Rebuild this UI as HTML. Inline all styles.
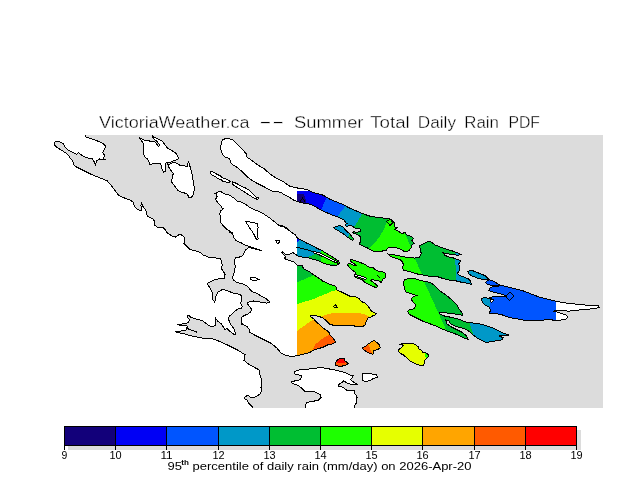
<!DOCTYPE html><html><head><meta charset="utf-8"><title>VictoriaWeather.ca -- Summer Total Daily Rain PDF</title>
<style>html,body{margin:0;padding:0;background:#fff;width:640px;height:480px;overflow:hidden}svg{display:block;will-change:transform}.t{font-family:"Liberation Sans",sans-serif;font-weight:normal;stroke:#fff;stroke-width:0.35px}.l{font-family:"Liberation Sans",sans-serif;font-weight:normal}</style></head><body>
<svg width="640" height="480" viewBox="0 0 640 480">
<defs>
<clipPath id="dom"><rect x="297" y="150" width="259" height="218.5"/></clipPath>
<clipPath id="c_i3"><polygon points="222.2,140.2 225.3,138.6 229.2,138.6 233.1,140.2 236.2,143.3 240.2,147.2 244.0,151.0 246.4,154.2 247.2,157.3 251.9,160.5 258.1,165.2 264.4,169.0 270.6,174.5 276.9,178.4 283.1,181.6 290.0,186.3 295.6,187.7 301.2,188.6 306.9,189.6 310.6,191.4 316.2,193.3 321.9,194.7 325.6,196.6 329.4,199.0 335.0,201.3 339.7,203.2 344.4,205.0 348.1,207.4 353.0,209.5 362.1,213.5 371.2,216.6 379.4,217.6 387.5,218.6 391.6,219.4 394.4,223.1 394.8,226.9 397.2,227.8 394.8,229.2 398.1,231.1 401.9,233.4 405.6,232.5 406.1,234.8 409.4,235.8 412.6,237.2 413.6,238.6 411.7,240.0 413.1,241.9 414.5,243.3 412.2,244.7 411.2,247.5 409.4,250.3 407.5,251.2 403.8,251.2 401.9,249.8 399.0,248.4 394.4,247.5 388.8,247.5 386.9,248.9 385.9,250.8 379.4,251.2 373.8,251.2 370.3,249.6 367.2,247.8 364.0,246.6 360.9,245.0 359.4,243.9 360.2,242.0 360.9,240.0 360.5,236.9 359.4,235.7 356.2,234.1 353.9,233.4 352.7,232.6 353.9,231.8 356.2,232.2 359.8,231.8 360.5,230.6 360.2,229.0 357.8,228.7 354.7,227.9 353.1,226.7 351.6,225.9 349.2,225.5 347.7,226.3 345.7,226.0 345.3,224.4 347.3,223.4 346.2,223.1 343.8,220.0 340.6,218.4 337.5,216.9 332.5,215.3 326.2,212.4 319.0,209.0 314.4,206.0 308.8,204.0 299.4,202.3 293.8,200.2 289.4,197.4 286.0,195.6 283.1,194.0 281.6,192.5 276.9,191.7 273.8,191.7 270.6,190.2 264.4,187.0 256.6,183.1 250.3,179.2 245.6,175.3 240.9,170.6 236.2,166.7 232.3,164.4 230.8,162.8 230.0,159.7 228.4,158.1 225.3,157.3 223.0,155.0 221.4,151.9 220.6,147.2 221.4,142.5" fill="none" stroke="none" /><polygon points="333.6,227.5 336.0,226.7 339.5,225.5 340.6,226.0 343.0,226.7 344.0,228.0 345.0,229.5 347.7,232.2 350.0,234.0 352.0,236.9 353.9,239.2 352.7,240.4 351.2,239.6 348.4,237.7 346.5,236.5 343.8,234.1 340.6,232.2 337.5,230.2 334.4,228.7" fill="none" stroke="none" /></clipPath>
<clipPath id="c_l2"><polygon points="215.0,193.5 216.5,193.0 218.0,192.5 218.2,191.5 220.0,191.2 220.8,191.5 221.5,192.2 223.0,192.8 225.0,194.0 227.0,194.5 229.0,195.0 230.5,195.5 232.0,197.0 234.0,198.2 235.5,199.5 237.0,201.0 239.0,201.2 241.0,201.8 245.6,204.5 250.3,207.7 255.0,210.0 261.2,212.3 266.0,215.5 270.6,218.6 275.3,222.5 279.2,225.6 281.6,226.4 286.2,227.2 287.8,229.5 291.0,232.0 295.6,235.0 297.0,237.7 300.0,239.7 303.4,241.3 306.6,243.0 309.9,244.6 313.1,246.2 316.4,247.9 319.6,249.5 322.9,251.1 326.1,253.1 329.4,255.2 332.7,257.2 335.9,259.2 338.7,260.9 339.6,263.3 337.5,264.9 334.3,265.7 331.0,265.3 327.8,264.5 324.5,263.7 321.3,262.1 318.8,260.9 315.6,260.0 311.5,258.8 307.4,257.6 303.4,257.2 300.0,256.8 297.0,255.4 293.8,253.1 293.1,251.9 291.9,253.1 288.8,254.4 286.2,255.0 282.5,251.9 281.9,252.5 283.8,255.0 285.6,256.9 284.4,258.1 286.2,259.4 290.0,260.6 293.8,261.9 295.6,263.8 297.0,264.9 298.2,265.2 302.1,265.6 303.0,267.5 304.5,269.5 309.2,271.5 312.4,273.9 316.4,276.6 321.1,279.8 322.7,281.4 326.6,282.6 329.8,284.5 334.6,285.7 336.1,287.3 336.9,290.1 340.9,291.7 344.8,293.6 349.4,296.0 355.6,296.7 358.8,298.3 361.1,301.4 365.0,303.0 368.1,306.1 369.7,308.4 371.2,310.8 375.2,313.1 376.2,313.8 375.9,314.7 374.4,315.5 373.8,315.0 371.2,316.9 368.1,317.5 366.2,321.2 365.0,325.0 362.5,326.9 358.8,326.9 352.5,325.6 347.5,325.0 340.0,325.0 335.0,325.6 330.0,324.4 327.5,321.9 325.0,319.4 321.9,317.5 316.2,315.6 310.6,315.6 310.6,316.9 313.8,318.8 316.2,321.9 320.0,325.0 323.1,328.1 326.9,330.6 328.8,331.9 330.0,335.0 333.1,338.1 335.6,341.9 332.5,343.8 327.5,345.0 322.5,347.5 317.5,348.8 312.5,350.6 310.0,352.5 305.0,353.8 300.0,355.0 297.5,355.6 292.0,356.6 286.3,355.6 280.7,352.8 277.0,348.1 271.3,343.4 263.8,339.7 254.4,335.0 249.7,332.2 249.7,329.4 246.9,326.6 242.2,323.8 241.9,324.3 241.2,320.7 241.2,317.8 244.1,315.6 247.7,314.1 250.7,311.9 251.4,309.0 249.2,306.1 247.0,303.2 249.2,301.7 253.6,301.0 258.0,301.7 262.3,302.4 266.7,303.2 269.6,302.4 268.9,301.0 265.3,298.1 260.9,295.9 256.5,293.2 252.1,291.5 249.9,289.3 247.7,286.4 243.4,284.2 237.5,282.7 233.9,280.5 232.4,277.6 233.1,275.4 234.6,271.0 235.3,266.7 234.6,261.6 235.3,258.0 239.0,257.2 242.6,255.7 245.6,249.8 248.8,247.5 262.0,250.6 249.5,246.7 245.6,245.2 241.0,242.8 236.2,240.5 233.9,238.1 233.1,235.0 232.3,232.7 230.8,231.9 228.4,230.3 225.3,228.0 223.0,225.6 220.6,222.5 220.6,217.8 219.8,213.9 220.6,210.8 222.5,209.5 223.2,208.5 222.0,208.0 221.5,206.5 219.5,204.5 218.0,203.0 216.5,201.0 215.2,199.2 216.5,198.0 217.2,196.5 216.2,196.0 216.5,194.2" fill="none" stroke="none" /></clipPath>
<clipPath id="c_i6"><polygon points="388.4,254.0 396.9,255.3 406.2,257.2 414.7,258.1 419.4,257.2 421.2,253.4 420.3,248.8 419.4,246.0 423.1,244.0 428.8,241.2 431.6,242.2 435.3,245.0 440.0,246.9 445.6,248.8 451.2,250.6 456.9,252.5 460.6,254.4 457.8,255.3 451.2,254.4 445.6,253.4 442.8,252.5 444.7,255.3 449.4,257.2 454.0,258.1 458.8,260.0 460.6,261.0 458.8,263.8 459.7,267.5 458.8,272.2 456.9,273.1 458.8,275.0 463.4,276.9 468.1,278.8 470.0,280.6 471.9,284.4 468.1,283.4 462.5,282.5 458.8,281.6 455.0,280.6 451.2,280.6 443.8,278.8 438.1,276.9 432.5,276.9 427.8,276.0 423.1,275.0 417.5,274.0 411.9,272.2 408.1,271.2 403.4,270.3 402.5,267.5 403.4,264.7 402.5,261.9 400.6,260.0 395.0,258.1 390.3,256.2" fill="none" stroke="none" /></clipPath>
<clipPath id="c_i7"><polygon points="404.4,279.7 410.0,278.4 415.6,278.8 420.3,280.6 426.0,281.6 430.6,282.5 435.3,286.2 440.0,291.0 445.6,294.7 451.2,299.4 456.9,305.0 459.0,308.8 461.9,312.5 462.8,315.3 458.1,314.4 450.6,313.4 443.1,312.5 439.4,312.5 440.3,314.4 445.0,316.2 450.6,317.2 458.1,319.0 465.6,321.9 471.2,322.8 478.8,323.8 486.2,325.6 493.8,328.4 501.2,332.2 508.8,335.0 504.0,335.0 499.4,336.0 503.1,337.8 502.2,339.7 497.5,340.6 491.9,341.6 486.2,342.5 482.5,340.6 476.9,337.8 473.1,335.0 470.3,332.2 467.5,330.3 463.8,328.4 456.2,326.6 450.6,323.8 448.8,321.0 445.9,320.0 446.9,323.8 450.6,326.6 456.2,329.4 461.9,332.2 465.6,335.0 467.5,337.8 468.4,339.7 463.8,337.8 458.1,335.0 450.6,332.2 443.1,329.4 437.5,326.6 430.0,323.8 422.5,321.0 415.0,317.2 409.4,314.4 407.5,311.6 409.4,309.7 414.0,308.8 416.0,305.0 413.1,302.2 411.2,299.4 413.1,296.6 416.9,295.6 411.2,293.8 405.6,291.9 404.4,288.0 403.4,283.4" fill="none" stroke="none" /></clipPath>
<clipPath id="c_i8"><polygon points="467.5,271.2 472.5,270.6 478.8,273.1 485.0,275.6 488.8,279.4 486.2,280.0 482.5,279.4 477.5,278.1 472.5,276.2 469.4,274.4" fill="none" stroke="none" /></clipPath>
<clipPath id="c_i9"><polygon points="489.4,288.1 492.5,286.9 497.5,286.2 502.5,285.6 507.5,286.9 512.5,288.1 517.5,289.4 522.5,290.6 530.3,293.6 539.7,297.2 549.0,299.5 556.0,301.4 565.5,303.0 577.2,304.2 588.9,305.4 598.3,305.4 599.4,307.7 591.2,308.9 579.5,310.0 567.8,311.2 560.8,310.0 556.0,310.0 553.8,311.2 558.4,312.4 565.5,314.7 567.8,317.0 565.5,319.4 556.0,320.6 549.0,319.4 539.7,320.6 530.3,320.6 522.5,320.0 517.5,318.8 512.5,318.1 507.5,316.9 502.5,315.0 497.5,313.8 492.5,313.8 489.4,313.1 490.6,310.0 489.4,308.1 488.8,306.5 487.5,306.2 485.0,305.0 482.5,302.5 481.9,300.6 481.9,298.8 483.8,297.5 486.2,297.5 488.8,298.8 490.0,297.5 492.5,296.9 497.5,296.9 503.1,296.9 505.0,295.6 502.5,294.4 497.5,293.1 492.5,291.9 488.8,290.6" fill="none" stroke="none" /><polygon points="485.6,282.5 488.8,279.6 493.8,281.2 497.5,283.6 501.2,285.4 496.2,285.6 491.2,285.4 487.5,284.4" fill="none" stroke="none" /></clipPath>
<clipPath id="c_i12"><polygon points="350.2,259.3 352.5,259.7 355.6,260.9 358.8,262.0 361.9,263.2 365.0,264.4 367.3,266.3 369.7,267.1 372.8,267.5 374.4,269.1 376.7,270.6 379.0,271.4 382.2,271.4 384.5,272.6 386.1,274.1 385.3,275.3 385.3,276.9 384.9,278.4 383.8,278.4 382.2,280.0 381.8,282.0 380.6,282.0 378.3,280.8 376.7,280.0 374.4,280.0 372.0,279.6 370.5,280.4 372.8,282.0 374.4,283.1 375.9,284.3 377.5,285.9 377.1,287.0 374.4,287.0 372.0,285.9 369.7,284.7 367.3,283.5 365.0,282.3 363.4,281.2 361.9,280.0 360.3,279.2 358.0,278.4 355.6,277.7 354.5,275.7 354.8,274.5 355.6,273.8 355.2,272.2 354.0,271.4 351.7,269.5 349.4,267.5 347.4,264.8 347.8,264.0 350.2,263.6 352.9,264.8 354.8,265.9 356.8,265.9 356.0,264.8 353.7,263.6 351.7,262.4 350.5,260.9" fill="none" stroke="none" /></clipPath>
<clipPath id="c_iy"><polygon points="400.2,344.4 402.5,343.2 404.5,343.6 407.2,343.2 411.9,343.2 415.8,344.8 418.1,346.7 418.9,349.1 421.2,350.2 422.8,352.2 425.9,353.0 429.0,354.9 428.3,356.5 426.7,358.4 424.8,360.0 424.4,362.3 423.6,365.1 422.0,365.9 419.7,365.1 416.6,364.3 413.4,362.7 410.3,361.2 408.0,359.2 405.6,356.9 403.3,354.9 400.2,353.4 398.6,351.8 399.0,349.5 401.7,347.5 403.7,345.5 402.1,344.8" fill="none" stroke="none" /></clipPath>
<clipPath id="c_io"><polygon points="362.5,347.8 366.3,346.0 368.2,344.0 373.8,340.3 376.6,342.2 379.4,345.0 380.4,347.8 377.6,349.7 373.8,350.6 372.9,354.4 370.0,353.5 366.3,351.6 363.5,349.7" fill="none" stroke="none" /></clipPath>
<clipPath id="c_ir"><polygon points="335.6,363.1 337.0,360.3 338.4,359.4 340.3,358.4 342.2,358.9 344.0,358.4 345.0,360.8 346.9,362.2 348.3,364.0 345.9,365.0 343.1,365.5 341.2,366.9 339.4,366.9 337.5,365.9 335.6,365.0" fill="none" stroke="none" /></clipPath>
</defs>
<g shape-rendering="crispEdges" stroke-width="1" stroke-linejoin="miter">
<rect x="0" y="0" width="640" height="480" fill="#fff"/>
<rect x="40" y="135" width="563" height="273" fill="#dcdcdc"/>
<polygon points="85.3,120.0 85.3,135.5 86.0,137.0 93.0,139.4 99.4,141.7 104.8,144.8 105.6,147.2 104.0,150.3 102.5,152.7 104.4,155.0 104.0,157.3 103.3,159.0 105.6,159.7 102.5,159.7 99.4,159.0 97.0,160.5 96.2,162.8 95.5,164.4 94.7,162.8 93.0,159.7 91.5,158.0 88.4,158.0 85.3,157.3 81.4,155.0 78.3,152.7 76.7,154.2 73.6,152.7 67.3,149.5 65.0,147.2 63.4,144.0 60.3,142.2 56.4,141.2 54.8,142.2 54.0,144.0 55.6,146.4 60.3,149.5 65.8,153.0 69.0,155.8 69.7,158.0 71.2,159.0 72.8,161.2 73.6,164.4 76.0,166.7 82.2,169.8 91.5,174.5 99.4,177.7 107.2,180.8 111.9,186.2 116.6,192.5 119.0,195.6 124.4,198.0 130.6,200.3 133.1,202.0 133.9,205.2 136.2,208.3 137.8,209.8 141.2,210.6 141.0,205.2 141.7,202.0 142.5,206.0 144.8,209.0 146.4,211.4 147.2,216.0 150.3,217.7 153.4,219.2 155.0,222.3 154.2,224.7 157.3,227.0 162.0,227.0 164.4,228.6 167.5,233.3 171.4,235.6 175.3,237.2 180.0,234.0 183.9,236.4 184.7,241.1 183.9,243.4 186.2,245.8 190.2,249.7 197.2,251.2 201.0,252.8 203.4,255.2 209.7,257.5 219.8,258.3 221.5,260.8 222.2,265.2 221.5,268.9 223.6,271.8 225.1,274.7 224.4,278.4 218.4,278.8 214.5,279.8 208.3,283.0 207.5,283.8 209.8,287.7 212.2,292.3 213.0,296.2 212.2,298.6 214.5,301.7 215.3,300.0 216.0,296.2 217.7,292.3 220.0,290.8 222.9,289.3 227.3,290.8 233.1,293.0 239.7,294.4 241.9,296.6 241.9,301.0 240.4,303.2 241.9,305.5 242.1,306.7 241.7,308.8 238.3,308.8 235.8,310.4 233.8,312.5 231.7,314.6 229.6,315.4 228.3,318.3 228.8,320.0 230.0,323.3 231.7,325.8 233.8,328.3 234.6,330.8 235.4,333.3 235.0,335.0 233.3,333.8 230.8,332.0 229.2,330.8 227.5,328.8 224.6,329.2 222.5,325.8 220.8,323.3 218.3,321.7 215.6,318.3 215.4,317.5 215.3,322.5 216.0,324.8 213.8,326.0 209.8,326.0 206.7,324.0 202.0,320.5 198.9,319.8 193.4,318.2 191.0,317.4 189.5,315.9 188.0,315.5 187.2,317.0 188.8,318.6 189.5,319.8 188.8,321.7 187.2,322.9 184.8,323.3 182.5,323.7 181.0,324.5 177.4,324.0 179.4,325.2 186.4,325.2 187.2,326.4 186.8,328.8 185.6,330.7 181.0,331.0 175.9,331.0 175.5,331.5 177.0,332.3 184.0,333.8 189.5,335.4 199.7,337.7 206.0,338.5 210.6,338.1 215.3,339.7 220.0,341.6 228.1,345.3 237.5,350.0 245.0,354.7 244.0,360.3 246.9,363.1 253.4,366.9 259.0,369.7 260.0,375.3 261.9,380.0 261.0,387.5 262.0,390.4 260.0,394.1 255.3,397.0 250.6,397.9 247.8,395.0 245.0,397.0 244.0,398.8 246.9,399.7 248.8,403.5 252.5,407.2 253.0,420.0 20.0,420.0 20.0,120.0" fill="#fff" stroke="none" />
<polygon points="215.0,193.5 216.5,193.0 218.0,192.5 218.2,191.5 220.0,191.2 220.8,191.5 221.5,192.2 223.0,192.8 225.0,194.0 227.0,194.5 229.0,195.0 230.5,195.5 232.0,197.0 234.0,198.2 235.5,199.5 237.0,201.0 239.0,201.2 241.0,201.8 245.6,204.5 250.3,207.7 255.0,210.0 261.2,212.3 266.0,215.5 270.6,218.6 275.3,222.5 279.2,225.6 281.6,226.4 286.2,227.2 287.8,229.5 291.0,232.0 295.6,235.0 297.0,237.7 300.0,239.7 303.4,241.3 306.6,243.0 309.9,244.6 313.1,246.2 316.4,247.9 319.6,249.5 322.9,251.1 326.1,253.1 329.4,255.2 332.7,257.2 335.9,259.2 338.7,260.9 339.6,263.3 337.5,264.9 334.3,265.7 331.0,265.3 327.8,264.5 324.5,263.7 321.3,262.1 318.8,260.9 315.6,260.0 311.5,258.8 307.4,257.6 303.4,257.2 300.0,256.8 297.0,255.4 293.8,253.1 293.1,251.9 291.9,253.1 288.8,254.4 286.2,255.0 282.5,251.9 281.9,252.5 283.8,255.0 285.6,256.9 284.4,258.1 286.2,259.4 290.0,260.6 293.8,261.9 295.6,263.8 297.0,264.9 298.2,265.2 302.1,265.6 303.0,267.5 304.5,269.5 309.2,271.5 312.4,273.9 316.4,276.6 321.1,279.8 322.7,281.4 326.6,282.6 329.8,284.5 334.6,285.7 336.1,287.3 336.9,290.1 340.9,291.7 344.8,293.6 349.4,296.0 355.6,296.7 358.8,298.3 361.1,301.4 365.0,303.0 368.1,306.1 369.7,308.4 371.2,310.8 375.2,313.1 376.2,313.8 375.9,314.7 374.4,315.5 373.8,315.0 371.2,316.9 368.1,317.5 366.2,321.2 365.0,325.0 362.5,326.9 358.8,326.9 352.5,325.6 347.5,325.0 340.0,325.0 335.0,325.6 330.0,324.4 327.5,321.9 325.0,319.4 321.9,317.5 316.2,315.6 310.6,315.6 310.6,316.9 313.8,318.8 316.2,321.9 320.0,325.0 323.1,328.1 326.9,330.6 328.8,331.9 330.0,335.0 333.1,338.1 335.6,341.9 332.5,343.8 327.5,345.0 322.5,347.5 317.5,348.8 312.5,350.6 310.0,352.5 305.0,353.8 300.0,355.0 297.5,355.6 292.0,356.6 286.3,355.6 280.7,352.8 277.0,348.1 271.3,343.4 263.8,339.7 254.4,335.0 249.7,332.2 249.7,329.4 246.9,326.6 242.2,323.8 241.9,324.3 241.2,320.7 241.2,317.8 244.1,315.6 247.7,314.1 250.7,311.9 251.4,309.0 249.2,306.1 247.0,303.2 249.2,301.7 253.6,301.0 258.0,301.7 262.3,302.4 266.7,303.2 269.6,302.4 268.9,301.0 265.3,298.1 260.9,295.9 256.5,293.2 252.1,291.5 249.9,289.3 247.7,286.4 243.4,284.2 237.5,282.7 233.9,280.5 232.4,277.6 233.1,275.4 234.6,271.0 235.3,266.7 234.6,261.6 235.3,258.0 239.0,257.2 242.6,255.7 245.6,249.8 248.8,247.5 262.0,250.6 249.5,246.7 245.6,245.2 241.0,242.8 236.2,240.5 233.9,238.1 233.1,235.0 232.3,232.7 230.8,231.9 228.4,230.3 225.3,228.0 223.0,225.6 220.6,222.5 220.6,217.8 219.8,213.9 220.6,210.8 222.5,209.5 223.2,208.5 222.0,208.0 221.5,206.5 219.5,204.5 218.0,203.0 216.5,201.0 215.2,199.2 216.5,198.0 217.2,196.5 216.2,196.0 216.5,194.2" fill="#fff" stroke="none" />
<polygon points="139.4,137.8 144.8,140.2 149.5,141.0 153.4,141.0 155.0,141.7 156.6,144.0 158.1,146.4 159.7,145.6 158.9,144.0 157.3,141.7 154.2,139.4 151.9,135.5 153.4,137.0 157.3,138.6 162.0,141.0 164.4,144.0 167.5,148.0 171.4,150.3 175.3,152.7 177.7,155.8 178.4,158.9 176.9,159.7 173.8,160.5 169.8,162.8 168.3,162.0 166.0,162.8 165.2,166.0 166.0,170.6 163.6,172.2 162.0,169.0 161.2,166.0 160.5,163.6 158.1,163.6 155.0,163.6 149.5,164.4 148.8,161.2 147.2,158.9 144.8,156.6 143.3,153.4 143.3,149.5 144.0,145.6 143.3,143.3 141.7,141.0 139.4,138.6" fill="#fff" stroke="none" />
<polygon points="167.5,163.6 169.0,164.4 172.2,162.8 175.3,162.8 176.9,163.6 180.0,165.2 184.7,166.0 187.0,166.7 187.8,163.6 188.6,162.0 189.4,163.6 190.2,167.5 191.7,172.2 192.5,176.9 193.3,181.6 194.0,186.2 194.0,191.0 193.3,194.8 192.5,196.4 190.2,198.0 188.6,197.2 187.8,194.8 186.2,193.3 181.6,192.5 177.7,190.2 176.0,187.8 173.8,184.7 171.4,181.6 172.2,178.4 172.2,175.3 173.8,173.8 172.2,172.2 169.8,169.0 168.3,166.0" fill="#fff" stroke="none" />
<polygon points="222.2,140.2 225.3,138.6 229.2,138.6 233.1,140.2 236.2,143.3 240.2,147.2 244.0,151.0 246.4,154.2 247.2,157.3 251.9,160.5 258.1,165.2 264.4,169.0 270.6,174.5 276.9,178.4 283.1,181.6 290.0,186.3 295.6,187.7 301.2,188.6 306.9,189.6 310.6,191.4 316.2,193.3 321.9,194.7 325.6,196.6 329.4,199.0 335.0,201.3 339.7,203.2 344.4,205.0 348.1,207.4 353.0,209.5 362.1,213.5 371.2,216.6 379.4,217.6 387.5,218.6 391.6,219.4 394.4,223.1 394.8,226.9 397.2,227.8 394.8,229.2 398.1,231.1 401.9,233.4 405.6,232.5 406.1,234.8 409.4,235.8 412.6,237.2 413.6,238.6 411.7,240.0 413.1,241.9 414.5,243.3 412.2,244.7 411.2,247.5 409.4,250.3 407.5,251.2 403.8,251.2 401.9,249.8 399.0,248.4 394.4,247.5 388.8,247.5 386.9,248.9 385.9,250.8 379.4,251.2 373.8,251.2 370.3,249.6 367.2,247.8 364.0,246.6 360.9,245.0 359.4,243.9 360.2,242.0 360.9,240.0 360.5,236.9 359.4,235.7 356.2,234.1 353.9,233.4 352.7,232.6 353.9,231.8 356.2,232.2 359.8,231.8 360.5,230.6 360.2,229.0 357.8,228.7 354.7,227.9 353.1,226.7 351.6,225.9 349.2,225.5 347.7,226.3 345.7,226.0 345.3,224.4 347.3,223.4 346.2,223.1 343.8,220.0 340.6,218.4 337.5,216.9 332.5,215.3 326.2,212.4 319.0,209.0 314.4,206.0 308.8,204.0 299.4,202.3 293.8,200.2 289.4,197.4 286.0,195.6 283.1,194.0 281.6,192.5 276.9,191.7 273.8,191.7 270.6,190.2 264.4,187.0 256.6,183.1 250.3,179.2 245.6,175.3 240.9,170.6 236.2,166.7 232.3,164.4 230.8,162.8 230.0,159.7 228.4,158.1 225.3,157.3 223.0,155.0 221.4,151.9 220.6,147.2 221.4,142.5" fill="#fff" stroke="none" />
<polygon points="210.2,171.1 211.6,171.1 216.2,173.9 220.9,176.2 222.3,177.7 225.2,178.6 228.4,180.0 230.3,181.9 227.5,182.3 222.8,181.4 221.4,180.0 219.0,179.1 215.3,176.7 211.6,174.8 210.2,173.0" fill="#fff" stroke="none" />
<polygon points="232.2,181.9 234.0,182.3 237.8,184.2 242.5,186.6 246.2,188.4 250.0,190.8 252.8,193.6 255.6,196.9 258.4,197.3 258.9,198.8 257.0,199.2 254.7,198.3 252.8,197.3 249.0,195.0 246.2,193.1 242.5,190.8 238.8,188.4 235.9,186.6 233.1,184.7" fill="#fff" stroke="none" />
<polygon points="333.6,227.5 336.0,226.7 339.5,225.5 340.6,226.0 343.0,226.7 344.0,228.0 345.0,229.5 347.7,232.2 350.0,234.0 352.0,236.9 353.9,239.2 352.7,240.4 351.2,239.6 348.4,237.7 346.5,236.5 343.8,234.1 340.6,232.2 337.5,230.2 334.4,228.7" fill="#fff" stroke="none" />
<polygon points="388.4,254.0 396.9,255.3 406.2,257.2 414.7,258.1 419.4,257.2 421.2,253.4 420.3,248.8 419.4,246.0 423.1,244.0 428.8,241.2 431.6,242.2 435.3,245.0 440.0,246.9 445.6,248.8 451.2,250.6 456.9,252.5 460.6,254.4 457.8,255.3 451.2,254.4 445.6,253.4 442.8,252.5 444.7,255.3 449.4,257.2 454.0,258.1 458.8,260.0 460.6,261.0 458.8,263.8 459.7,267.5 458.8,272.2 456.9,273.1 458.8,275.0 463.4,276.9 468.1,278.8 470.0,280.6 471.9,284.4 468.1,283.4 462.5,282.5 458.8,281.6 455.0,280.6 451.2,280.6 443.8,278.8 438.1,276.9 432.5,276.9 427.8,276.0 423.1,275.0 417.5,274.0 411.9,272.2 408.1,271.2 403.4,270.3 402.5,267.5 403.4,264.7 402.5,261.9 400.6,260.0 395.0,258.1 390.3,256.2" fill="#fff" stroke="none" />
<polygon points="404.4,279.7 410.0,278.4 415.6,278.8 420.3,280.6 426.0,281.6 430.6,282.5 435.3,286.2 440.0,291.0 445.6,294.7 451.2,299.4 456.9,305.0 459.0,308.8 461.9,312.5 462.8,315.3 458.1,314.4 450.6,313.4 443.1,312.5 439.4,312.5 440.3,314.4 445.0,316.2 450.6,317.2 458.1,319.0 465.6,321.9 471.2,322.8 478.8,323.8 486.2,325.6 493.8,328.4 501.2,332.2 508.8,335.0 504.0,335.0 499.4,336.0 503.1,337.8 502.2,339.7 497.5,340.6 491.9,341.6 486.2,342.5 482.5,340.6 476.9,337.8 473.1,335.0 470.3,332.2 467.5,330.3 463.8,328.4 456.2,326.6 450.6,323.8 448.8,321.0 445.9,320.0 446.9,323.8 450.6,326.6 456.2,329.4 461.9,332.2 465.6,335.0 467.5,337.8 468.4,339.7 463.8,337.8 458.1,335.0 450.6,332.2 443.1,329.4 437.5,326.6 430.0,323.8 422.5,321.0 415.0,317.2 409.4,314.4 407.5,311.6 409.4,309.7 414.0,308.8 416.0,305.0 413.1,302.2 411.2,299.4 413.1,296.6 416.9,295.6 411.2,293.8 405.6,291.9 404.4,288.0 403.4,283.4" fill="#fff" stroke="none" />
<polygon points="467.5,271.2 472.5,270.6 478.8,273.1 485.0,275.6 488.8,279.4 486.2,280.0 482.5,279.4 477.5,278.1 472.5,276.2 469.4,274.4" fill="#fff" stroke="none" />
<polygon points="489.4,288.1 492.5,286.9 497.5,286.2 502.5,285.6 507.5,286.9 512.5,288.1 517.5,289.4 522.5,290.6 530.3,293.6 539.7,297.2 549.0,299.5 556.0,301.4 565.5,303.0 577.2,304.2 588.9,305.4 598.3,305.4 599.4,307.7 591.2,308.9 579.5,310.0 567.8,311.2 560.8,310.0 556.0,310.0 553.8,311.2 558.4,312.4 565.5,314.7 567.8,317.0 565.5,319.4 556.0,320.6 549.0,319.4 539.7,320.6 530.3,320.6 522.5,320.0 517.5,318.8 512.5,318.1 507.5,316.9 502.5,315.0 497.5,313.8 492.5,313.8 489.4,313.1 490.6,310.0 489.4,308.1 488.8,306.5 487.5,306.2 485.0,305.0 482.5,302.5 481.9,300.6 481.9,298.8 483.8,297.5 486.2,297.5 488.8,298.8 490.0,297.5 492.5,296.9 497.5,296.9 503.1,296.9 505.0,295.6 502.5,294.4 497.5,293.1 492.5,291.9 488.8,290.6" fill="#fff" stroke="none" />
<polygon points="485.6,282.5 488.8,279.6 493.8,281.2 497.5,283.6 501.2,285.4 496.2,285.6 491.2,285.4 487.5,284.4" fill="#fff" stroke="none" />
<polygon points="350.2,259.3 352.5,259.7 355.6,260.9 358.8,262.0 361.9,263.2 365.0,264.4 367.3,266.3 369.7,267.1 372.8,267.5 374.4,269.1 376.7,270.6 379.0,271.4 382.2,271.4 384.5,272.6 386.1,274.1 385.3,275.3 385.3,276.9 384.9,278.4 383.8,278.4 382.2,280.0 381.8,282.0 380.6,282.0 378.3,280.8 376.7,280.0 374.4,280.0 372.0,279.6 370.5,280.4 372.8,282.0 374.4,283.1 375.9,284.3 377.5,285.9 377.1,287.0 374.4,287.0 372.0,285.9 369.7,284.7 367.3,283.5 365.0,282.3 363.4,281.2 361.9,280.0 360.3,279.2 358.0,278.4 355.6,277.7 354.5,275.7 354.8,274.5 355.6,273.8 355.2,272.2 354.0,271.4 351.7,269.5 349.4,267.5 347.4,264.8 347.8,264.0 350.2,263.6 352.9,264.8 354.8,265.9 356.8,265.9 356.0,264.8 353.7,263.6 351.7,262.4 350.5,260.9" fill="#fff" stroke="none" />
<polygon points="400.2,344.4 402.5,343.2 404.5,343.6 407.2,343.2 411.9,343.2 415.8,344.8 418.1,346.7 418.9,349.1 421.2,350.2 422.8,352.2 425.9,353.0 429.0,354.9 428.3,356.5 426.7,358.4 424.8,360.0 424.4,362.3 423.6,365.1 422.0,365.9 419.7,365.1 416.6,364.3 413.4,362.7 410.3,361.2 408.0,359.2 405.6,356.9 403.3,354.9 400.2,353.4 398.6,351.8 399.0,349.5 401.7,347.5 403.7,345.5 402.1,344.8" fill="#fff" stroke="none" />
<polygon points="362.5,347.8 366.3,346.0 368.2,344.0 373.8,340.3 376.6,342.2 379.4,345.0 380.4,347.8 377.6,349.7 373.8,350.6 372.9,354.4 370.0,353.5 366.3,351.6 363.5,349.7" fill="#fff" stroke="none" />
<polygon points="335.6,363.1 337.0,360.3 338.4,359.4 340.3,358.4 342.2,358.9 344.0,358.4 345.0,360.8 346.9,362.2 348.3,364.0 345.9,365.0 343.1,365.5 341.2,366.9 339.4,366.9 337.5,365.9 335.6,365.0" fill="#fff" stroke="none" />
<polygon points="305.3,409.0 306.2,403.2 308.0,402.2 318.4,400.3 321.2,397.5 320.3,394.7 314.7,391.9 309.0,391.0 304.4,391.0 301.6,388.2 297.8,385.3 292.2,383.4 291.2,381.6 296.9,380.6 300.6,379.7 301.6,376.0 298.8,375.0 295.0,374.0 294.0,372.2 296.9,370.3 304.4,369.4 314.7,368.5 320.3,367.5 326.9,368.5 336.3,370.3 343.8,372.2 350.3,375.0 353.2,375.0 352.2,377.8 350.3,379.7 354.1,382.5 357.0,384.4 352.2,384.4 347.5,383.4 343.8,380.6 342.0,382.5 339.0,384.4 338.2,386.3 342.9,387.2 346.6,390.0 351.3,390.0 355.0,391.0 354.1,392.8 356.0,394.7 357.0,397.5 356.0,400.3 357.0,402.2 355.0,405.0 354.0,409.0" fill="#fff" stroke="none" />
<polygon points="362.5,373.2 368.2,373.2 376.6,375.0 377.6,377.0 372.9,378.8 370.0,380.6 365.4,381.6 362.5,380.6 362.5,377.0" fill="#fff" stroke="none" />
<g clip-path="url(#dom)">
<g clip-path="url(#c_i3)">
<polygon points="290.0,150.0 600.0,150.0 600.0,370.0 290.0,370.0" fill="#0000f5" stroke="none" />
<polygon points="297.0,194.0 304.0,194.2 307.0,204.5 297.0,204.5" fill="#12007a" stroke="none" />
<polygon points="297.0,185.0 308.5,185.0 308.5,190.9 297.0,190.9" fill="#ffffff" stroke="none" />
<polygon points="331.6,185.0 430.0,185.0 430.0,260.0 300.3,260.0" fill="#0055ff" stroke="none" />
<polygon points="361.7,185.0 430.0,185.0 430.0,260.0 303.7,260.0" fill="#0098c8" stroke="none" />
<polygon points="380.8,185.0 430.0,185.0 430.0,260.0 342.6,245.0 333.0,260.0" fill="#00be32" stroke="none" />
<polygon points="392.0,185.0 430.0,185.0 430.0,260.0 363.8,260.0 370.0,247.0 373.8,243.8 379.4,237.2 384.0,228.8 387.8,219.4 389.0,215.0" fill="#1eff00" stroke="none" />
<polygon points="403.5,228.0 430.0,228.0 430.0,260.0 412.5,260.0 411.2,247.5 404.7,233.0" fill="#00be32" stroke="none" />
</g>
<g clip-path="url(#c_l2)">
<polygon points="290.0,150.0 600.0,150.0 600.0,370.0 290.0,370.0" fill="#1eff00" stroke="none" />
<polygon points="297.0,230.0 340.0,230.0 320.5,252.0 307.4,257.2 297.0,261.3" fill="#0098c8" stroke="none" />
<polygon points="297.0,235.0 304.0,235.0 297.0,243.0" fill="#0000f5" stroke="none" />
<polygon points="297.0,261.3 320.5,252.0 320.5,263.5 297.0,263.5" fill="#00be32" stroke="none" />
<polygon points="297.0,264.3 335.0,264.3 335.0,266.5 313.4,275.5 297.0,282.2" fill="#00be32" stroke="none" />
<polygon points="297.0,304.0 305.0,301.6 313.8,298.9 323.0,295.0 332.5,291.0 340.0,289.5 380.0,285.0 380.0,370.0 297.0,370.0" fill="#e6ff00" stroke="none" />
<polygon points="297.0,331.0 311.8,320.4 316.0,318.3 322.5,316.2 328.8,313.8 337.5,312.5 350.0,312.5 360.0,313.1 366.2,315.0 372.0,318.0 380.0,318.0 380.0,370.0 297.0,370.0" fill="#ffa500" stroke="none" />
<polygon points="312.0,352.0 313.4,348.5 315.4,344.5 319.7,340.6 323.7,337.8 328.4,335.0 334.0,331.3 340.0,330.0 340.0,370.0 300.0,370.0" fill="#ff5a00" stroke="none" />
</g>
<g clip-path="url(#c_i6)">
<polygon points="290.0,150.0 600.0,150.0 600.0,370.0 290.0,370.0" fill="#1eff00" stroke="none" />
<polygon points="404.6,235.0 480.0,235.0 480.0,290.0 428.8,290.0" fill="#00be32" stroke="none" />
<polygon points="454.0,240.0 480.0,240.0 480.0,290.0 457.0,290.0" fill="#0098c8" stroke="none" />
</g>
<g clip-path="url(#c_i7)">
<polygon points="290.0,150.0 600.0,150.0 600.0,370.0 290.0,370.0" fill="#1eff00" stroke="none" />
<polygon points="421.2,275.0 520.0,275.0 520.0,350.0 455.2,350.0" fill="#00be32" stroke="none" />
<polygon points="451.9,272.8 520.0,272.8 520.0,350.0 478.8,350.0" fill="#0098c8" stroke="none" />
</g>
<g clip-path="url(#c_i8)">
<polygon points="290.0,150.0 600.0,150.0 600.0,370.0 290.0,370.0" fill="#0098c8" stroke="none" />
</g>
<g clip-path="url(#c_i9)">
<polygon points="290.0,150.0 600.0,150.0 600.0,370.0 290.0,370.0" fill="#0055ff" stroke="none" />
<polygon points="470.0,296.0 490.0,296.0 490.0,308.0 470.0,308.0" fill="#0098c8" stroke="none" />
<polygon points="556.0,280.0 610.0,280.0 610.0,330.0 556.0,330.0" fill="#ffffff" stroke="none" />
</g>
<g clip-path="url(#c_i12)">
<polygon points="290.0,150.0 600.0,150.0 600.0,370.0 290.0,370.0" fill="#1eff00" stroke="none" />
</g>
<g clip-path="url(#c_iy)">
<polygon points="290.0,150.0 600.0,150.0 600.0,370.0 290.0,370.0" fill="#e6ff00" stroke="none" />
<polygon points="424.3,350.0 440.0,350.0 440.0,362.0 426.3,362.0" fill="#1eff00" stroke="none" />
</g>
<g clip-path="url(#c_io)">
<polygon points="290.0,150.0 600.0,150.0 600.0,370.0 290.0,370.0" fill="#ffa500" stroke="none" />
<polygon points="350.0,340.0 366.5,340.0 373.0,356.0 350.0,356.0" fill="#ff5a00" stroke="none" />
</g>
<g clip-path="url(#c_ir)">
<polygon points="290.0,150.0 600.0,150.0 600.0,370.0 290.0,370.0" fill="#ff5a00" stroke="none" />
<polygon points="337.3,357.0 344.8,357.0 344.6,362.6 337.5,362.6" fill="#ff0000" stroke="none" />
</g>
</g>
<polygon points="354.8,274.4 359.5,275.6 363.5,276.9 366.5,278.2 365.5,279.4 362.0,278.4 358.5,277.3 355.0,276.0" fill="#fff" stroke="none" />
<polygon points="490.6,298.6 494.0,300.2 491.2,303.0" fill="#fff" stroke="none" />
<polygon points="313.0,251.2 320.0,253.0 326.0,256.0 332.0,259.0 338.0,262.2 337.2,263.2 331.0,260.4 325.0,257.6 319.0,254.8 313.0,252.6" fill="#fff" stroke="none" />
<polygon points="85.3,120.0 85.3,135.5 86.0,137.0 93.0,139.4 99.4,141.7 104.8,144.8 105.6,147.2 104.0,150.3 102.5,152.7 104.4,155.0 104.0,157.3 103.3,159.0 105.6,159.7 102.5,159.7 99.4,159.0 97.0,160.5 96.2,162.8 95.5,164.4 94.7,162.8 93.0,159.7 91.5,158.0 88.4,158.0 85.3,157.3 81.4,155.0 78.3,152.7 76.7,154.2 73.6,152.7 67.3,149.5 65.0,147.2 63.4,144.0 60.3,142.2 56.4,141.2 54.8,142.2 54.0,144.0 55.6,146.4 60.3,149.5 65.8,153.0 69.0,155.8 69.7,158.0 71.2,159.0 72.8,161.2 73.6,164.4 76.0,166.7 82.2,169.8 91.5,174.5 99.4,177.7 107.2,180.8 111.9,186.2 116.6,192.5 119.0,195.6 124.4,198.0 130.6,200.3 133.1,202.0 133.9,205.2 136.2,208.3 137.8,209.8 141.2,210.6 141.0,205.2 141.7,202.0 142.5,206.0 144.8,209.0 146.4,211.4 147.2,216.0 150.3,217.7 153.4,219.2 155.0,222.3 154.2,224.7 157.3,227.0 162.0,227.0 164.4,228.6 167.5,233.3 171.4,235.6 175.3,237.2 180.0,234.0 183.9,236.4 184.7,241.1 183.9,243.4 186.2,245.8 190.2,249.7 197.2,251.2 201.0,252.8 203.4,255.2 209.7,257.5 219.8,258.3 221.5,260.8 222.2,265.2 221.5,268.9 223.6,271.8 225.1,274.7 224.4,278.4 218.4,278.8 214.5,279.8 208.3,283.0 207.5,283.8 209.8,287.7 212.2,292.3 213.0,296.2 212.2,298.6 214.5,301.7 215.3,300.0 216.0,296.2 217.7,292.3 220.0,290.8 222.9,289.3 227.3,290.8 233.1,293.0 239.7,294.4 241.9,296.6 241.9,301.0 240.4,303.2 241.9,305.5 242.1,306.7 241.7,308.8 238.3,308.8 235.8,310.4 233.8,312.5 231.7,314.6 229.6,315.4 228.3,318.3 228.8,320.0 230.0,323.3 231.7,325.8 233.8,328.3 234.6,330.8 235.4,333.3 235.0,335.0 233.3,333.8 230.8,332.0 229.2,330.8 227.5,328.8 224.6,329.2 222.5,325.8 220.8,323.3 218.3,321.7 215.6,318.3 215.4,317.5 215.3,322.5 216.0,324.8 213.8,326.0 209.8,326.0 206.7,324.0 202.0,320.5 198.9,319.8 193.4,318.2 191.0,317.4 189.5,315.9 188.0,315.5 187.2,317.0 188.8,318.6 189.5,319.8 188.8,321.7 187.2,322.9 184.8,323.3 182.5,323.7 181.0,324.5 177.4,324.0 179.4,325.2 186.4,325.2 187.2,326.4 186.8,328.8 185.6,330.7 181.0,331.0 175.9,331.0 175.5,331.5 177.0,332.3 184.0,333.8 189.5,335.4 199.7,337.7 206.0,338.5 210.6,338.1 215.3,339.7 220.0,341.6 228.1,345.3 237.5,350.0 245.0,354.7 244.0,360.3 246.9,363.1 253.4,366.9 259.0,369.7 260.0,375.3 261.9,380.0 261.0,387.5 262.0,390.4 260.0,394.1 255.3,397.0 250.6,397.9 247.8,395.0 245.0,397.0 244.0,398.8 246.9,399.7 248.8,403.5 252.5,407.2 253.0,420.0 20.0,420.0 20.0,120.0" fill="none" stroke="#000" />
<polygon points="215.0,193.5 216.5,193.0 218.0,192.5 218.2,191.5 220.0,191.2 220.8,191.5 221.5,192.2 223.0,192.8 225.0,194.0 227.0,194.5 229.0,195.0 230.5,195.5 232.0,197.0 234.0,198.2 235.5,199.5 237.0,201.0 239.0,201.2 241.0,201.8 245.6,204.5 250.3,207.7 255.0,210.0 261.2,212.3 266.0,215.5 270.6,218.6 275.3,222.5 279.2,225.6 281.6,226.4 286.2,227.2 287.8,229.5 291.0,232.0 295.6,235.0 297.0,237.7 300.0,239.7 303.4,241.3 306.6,243.0 309.9,244.6 313.1,246.2 316.4,247.9 319.6,249.5 322.9,251.1 326.1,253.1 329.4,255.2 332.7,257.2 335.9,259.2 338.7,260.9 339.6,263.3 337.5,264.9 334.3,265.7 331.0,265.3 327.8,264.5 324.5,263.7 321.3,262.1 318.8,260.9 315.6,260.0 311.5,258.8 307.4,257.6 303.4,257.2 300.0,256.8 297.0,255.4 293.8,253.1 293.1,251.9 291.9,253.1 288.8,254.4 286.2,255.0 282.5,251.9 281.9,252.5 283.8,255.0 285.6,256.9 284.4,258.1 286.2,259.4 290.0,260.6 293.8,261.9 295.6,263.8 297.0,264.9 298.2,265.2 302.1,265.6 303.0,267.5 304.5,269.5 309.2,271.5 312.4,273.9 316.4,276.6 321.1,279.8 322.7,281.4 326.6,282.6 329.8,284.5 334.6,285.7 336.1,287.3 336.9,290.1 340.9,291.7 344.8,293.6 349.4,296.0 355.6,296.7 358.8,298.3 361.1,301.4 365.0,303.0 368.1,306.1 369.7,308.4 371.2,310.8 375.2,313.1 376.2,313.8 375.9,314.7 374.4,315.5 373.8,315.0 371.2,316.9 368.1,317.5 366.2,321.2 365.0,325.0 362.5,326.9 358.8,326.9 352.5,325.6 347.5,325.0 340.0,325.0 335.0,325.6 330.0,324.4 327.5,321.9 325.0,319.4 321.9,317.5 316.2,315.6 310.6,315.6 310.6,316.9 313.8,318.8 316.2,321.9 320.0,325.0 323.1,328.1 326.9,330.6 328.8,331.9 330.0,335.0 333.1,338.1 335.6,341.9 332.5,343.8 327.5,345.0 322.5,347.5 317.5,348.8 312.5,350.6 310.0,352.5 305.0,353.8 300.0,355.0 297.5,355.6 292.0,356.6 286.3,355.6 280.7,352.8 277.0,348.1 271.3,343.4 263.8,339.7 254.4,335.0 249.7,332.2 249.7,329.4 246.9,326.6 242.2,323.8 241.9,324.3 241.2,320.7 241.2,317.8 244.1,315.6 247.7,314.1 250.7,311.9 251.4,309.0 249.2,306.1 247.0,303.2 249.2,301.7 253.6,301.0 258.0,301.7 262.3,302.4 266.7,303.2 269.6,302.4 268.9,301.0 265.3,298.1 260.9,295.9 256.5,293.2 252.1,291.5 249.9,289.3 247.7,286.4 243.4,284.2 237.5,282.7 233.9,280.5 232.4,277.6 233.1,275.4 234.6,271.0 235.3,266.7 234.6,261.6 235.3,258.0 239.0,257.2 242.6,255.7 245.6,249.8 248.8,247.5 262.0,250.6 249.5,246.7 245.6,245.2 241.0,242.8 236.2,240.5 233.9,238.1 233.1,235.0 232.3,232.7 230.8,231.9 228.4,230.3 225.3,228.0 223.0,225.6 220.6,222.5 220.6,217.8 219.8,213.9 220.6,210.8 222.5,209.5 223.2,208.5 222.0,208.0 221.5,206.5 219.5,204.5 218.0,203.0 216.5,201.0 215.2,199.2 216.5,198.0 217.2,196.5 216.2,196.0 216.5,194.2" fill="none" stroke="#000" />
<polygon points="139.4,137.8 144.8,140.2 149.5,141.0 153.4,141.0 155.0,141.7 156.6,144.0 158.1,146.4 159.7,145.6 158.9,144.0 157.3,141.7 154.2,139.4 151.9,135.5 153.4,137.0 157.3,138.6 162.0,141.0 164.4,144.0 167.5,148.0 171.4,150.3 175.3,152.7 177.7,155.8 178.4,158.9 176.9,159.7 173.8,160.5 169.8,162.8 168.3,162.0 166.0,162.8 165.2,166.0 166.0,170.6 163.6,172.2 162.0,169.0 161.2,166.0 160.5,163.6 158.1,163.6 155.0,163.6 149.5,164.4 148.8,161.2 147.2,158.9 144.8,156.6 143.3,153.4 143.3,149.5 144.0,145.6 143.3,143.3 141.7,141.0 139.4,138.6" fill="none" stroke="#000" />
<polygon points="167.5,163.6 169.0,164.4 172.2,162.8 175.3,162.8 176.9,163.6 180.0,165.2 184.7,166.0 187.0,166.7 187.8,163.6 188.6,162.0 189.4,163.6 190.2,167.5 191.7,172.2 192.5,176.9 193.3,181.6 194.0,186.2 194.0,191.0 193.3,194.8 192.5,196.4 190.2,198.0 188.6,197.2 187.8,194.8 186.2,193.3 181.6,192.5 177.7,190.2 176.0,187.8 173.8,184.7 171.4,181.6 172.2,178.4 172.2,175.3 173.8,173.8 172.2,172.2 169.8,169.0 168.3,166.0" fill="none" stroke="#000" />
<polygon points="222.2,140.2 225.3,138.6 229.2,138.6 233.1,140.2 236.2,143.3 240.2,147.2 244.0,151.0 246.4,154.2 247.2,157.3 251.9,160.5 258.1,165.2 264.4,169.0 270.6,174.5 276.9,178.4 283.1,181.6 290.0,186.3 295.6,187.7 301.2,188.6 306.9,189.6 310.6,191.4 316.2,193.3 321.9,194.7 325.6,196.6 329.4,199.0 335.0,201.3 339.7,203.2 344.4,205.0 348.1,207.4 353.0,209.5 362.1,213.5 371.2,216.6 379.4,217.6 387.5,218.6 391.6,219.4 394.4,223.1 394.8,226.9 397.2,227.8 394.8,229.2 398.1,231.1 401.9,233.4 405.6,232.5 406.1,234.8 409.4,235.8 412.6,237.2 413.6,238.6 411.7,240.0 413.1,241.9 414.5,243.3 412.2,244.7 411.2,247.5 409.4,250.3 407.5,251.2 403.8,251.2 401.9,249.8 399.0,248.4 394.4,247.5 388.8,247.5 386.9,248.9 385.9,250.8 379.4,251.2 373.8,251.2 370.3,249.6 367.2,247.8 364.0,246.6 360.9,245.0 359.4,243.9 360.2,242.0 360.9,240.0 360.5,236.9 359.4,235.7 356.2,234.1 353.9,233.4 352.7,232.6 353.9,231.8 356.2,232.2 359.8,231.8 360.5,230.6 360.2,229.0 357.8,228.7 354.7,227.9 353.1,226.7 351.6,225.9 349.2,225.5 347.7,226.3 345.7,226.0 345.3,224.4 347.3,223.4 346.2,223.1 343.8,220.0 340.6,218.4 337.5,216.9 332.5,215.3 326.2,212.4 319.0,209.0 314.4,206.0 308.8,204.0 299.4,202.3 293.8,200.2 289.4,197.4 286.0,195.6 283.1,194.0 281.6,192.5 276.9,191.7 273.8,191.7 270.6,190.2 264.4,187.0 256.6,183.1 250.3,179.2 245.6,175.3 240.9,170.6 236.2,166.7 232.3,164.4 230.8,162.8 230.0,159.7 228.4,158.1 225.3,157.3 223.0,155.0 221.4,151.9 220.6,147.2 221.4,142.5" fill="none" stroke="#000" />
<polygon points="210.2,171.1 211.6,171.1 216.2,173.9 220.9,176.2 222.3,177.7 225.2,178.6 228.4,180.0 230.3,181.9 227.5,182.3 222.8,181.4 221.4,180.0 219.0,179.1 215.3,176.7 211.6,174.8 210.2,173.0" fill="none" stroke="#000" />
<polygon points="232.2,181.9 234.0,182.3 237.8,184.2 242.5,186.6 246.2,188.4 250.0,190.8 252.8,193.6 255.6,196.9 258.4,197.3 258.9,198.8 257.0,199.2 254.7,198.3 252.8,197.3 249.0,195.0 246.2,193.1 242.5,190.8 238.8,188.4 235.9,186.6 233.1,184.7" fill="none" stroke="#000" />
<polygon points="333.6,227.5 336.0,226.7 339.5,225.5 340.6,226.0 343.0,226.7 344.0,228.0 345.0,229.5 347.7,232.2 350.0,234.0 352.0,236.9 353.9,239.2 352.7,240.4 351.2,239.6 348.4,237.7 346.5,236.5 343.8,234.1 340.6,232.2 337.5,230.2 334.4,228.7" fill="none" stroke="#000" />
<polygon points="388.4,254.0 396.9,255.3 406.2,257.2 414.7,258.1 419.4,257.2 421.2,253.4 420.3,248.8 419.4,246.0 423.1,244.0 428.8,241.2 431.6,242.2 435.3,245.0 440.0,246.9 445.6,248.8 451.2,250.6 456.9,252.5 460.6,254.4 457.8,255.3 451.2,254.4 445.6,253.4 442.8,252.5 444.7,255.3 449.4,257.2 454.0,258.1 458.8,260.0 460.6,261.0 458.8,263.8 459.7,267.5 458.8,272.2 456.9,273.1 458.8,275.0 463.4,276.9 468.1,278.8 470.0,280.6 471.9,284.4 468.1,283.4 462.5,282.5 458.8,281.6 455.0,280.6 451.2,280.6 443.8,278.8 438.1,276.9 432.5,276.9 427.8,276.0 423.1,275.0 417.5,274.0 411.9,272.2 408.1,271.2 403.4,270.3 402.5,267.5 403.4,264.7 402.5,261.9 400.6,260.0 395.0,258.1 390.3,256.2" fill="none" stroke="#000" />
<polygon points="404.4,279.7 410.0,278.4 415.6,278.8 420.3,280.6 426.0,281.6 430.6,282.5 435.3,286.2 440.0,291.0 445.6,294.7 451.2,299.4 456.9,305.0 459.0,308.8 461.9,312.5 462.8,315.3 458.1,314.4 450.6,313.4 443.1,312.5 439.4,312.5 440.3,314.4 445.0,316.2 450.6,317.2 458.1,319.0 465.6,321.9 471.2,322.8 478.8,323.8 486.2,325.6 493.8,328.4 501.2,332.2 508.8,335.0 504.0,335.0 499.4,336.0 503.1,337.8 502.2,339.7 497.5,340.6 491.9,341.6 486.2,342.5 482.5,340.6 476.9,337.8 473.1,335.0 470.3,332.2 467.5,330.3 463.8,328.4 456.2,326.6 450.6,323.8 448.8,321.0 445.9,320.0 446.9,323.8 450.6,326.6 456.2,329.4 461.9,332.2 465.6,335.0 467.5,337.8 468.4,339.7 463.8,337.8 458.1,335.0 450.6,332.2 443.1,329.4 437.5,326.6 430.0,323.8 422.5,321.0 415.0,317.2 409.4,314.4 407.5,311.6 409.4,309.7 414.0,308.8 416.0,305.0 413.1,302.2 411.2,299.4 413.1,296.6 416.9,295.6 411.2,293.8 405.6,291.9 404.4,288.0 403.4,283.4" fill="none" stroke="#000" />
<polygon points="467.5,271.2 472.5,270.6 478.8,273.1 485.0,275.6 488.8,279.4 486.2,280.0 482.5,279.4 477.5,278.1 472.5,276.2 469.4,274.4" fill="none" stroke="#000" />
<polygon points="489.4,288.1 492.5,286.9 497.5,286.2 502.5,285.6 507.5,286.9 512.5,288.1 517.5,289.4 522.5,290.6 530.3,293.6 539.7,297.2 549.0,299.5 556.0,301.4 565.5,303.0 577.2,304.2 588.9,305.4 598.3,305.4 599.4,307.7 591.2,308.9 579.5,310.0 567.8,311.2 560.8,310.0 556.0,310.0 553.8,311.2 558.4,312.4 565.5,314.7 567.8,317.0 565.5,319.4 556.0,320.6 549.0,319.4 539.7,320.6 530.3,320.6 522.5,320.0 517.5,318.8 512.5,318.1 507.5,316.9 502.5,315.0 497.5,313.8 492.5,313.8 489.4,313.1 490.6,310.0 489.4,308.1 488.8,306.5 487.5,306.2 485.0,305.0 482.5,302.5 481.9,300.6 481.9,298.8 483.8,297.5 486.2,297.5 488.8,298.8 490.0,297.5 492.5,296.9 497.5,296.9 503.1,296.9 505.0,295.6 502.5,294.4 497.5,293.1 492.5,291.9 488.8,290.6" fill="none" stroke="#000" />
<polygon points="485.6,282.5 488.8,279.6 493.8,281.2 497.5,283.6 501.2,285.4 496.2,285.6 491.2,285.4 487.5,284.4" fill="none" stroke="#000" />
<polygon points="350.2,259.3 352.5,259.7 355.6,260.9 358.8,262.0 361.9,263.2 365.0,264.4 367.3,266.3 369.7,267.1 372.8,267.5 374.4,269.1 376.7,270.6 379.0,271.4 382.2,271.4 384.5,272.6 386.1,274.1 385.3,275.3 385.3,276.9 384.9,278.4 383.8,278.4 382.2,280.0 381.8,282.0 380.6,282.0 378.3,280.8 376.7,280.0 374.4,280.0 372.0,279.6 370.5,280.4 372.8,282.0 374.4,283.1 375.9,284.3 377.5,285.9 377.1,287.0 374.4,287.0 372.0,285.9 369.7,284.7 367.3,283.5 365.0,282.3 363.4,281.2 361.9,280.0 360.3,279.2 358.0,278.4 355.6,277.7 354.5,275.7 354.8,274.5 355.6,273.8 355.2,272.2 354.0,271.4 351.7,269.5 349.4,267.5 347.4,264.8 347.8,264.0 350.2,263.6 352.9,264.8 354.8,265.9 356.8,265.9 356.0,264.8 353.7,263.6 351.7,262.4 350.5,260.9" fill="none" stroke="#000" />
<polygon points="400.2,344.4 402.5,343.2 404.5,343.6 407.2,343.2 411.9,343.2 415.8,344.8 418.1,346.7 418.9,349.1 421.2,350.2 422.8,352.2 425.9,353.0 429.0,354.9 428.3,356.5 426.7,358.4 424.8,360.0 424.4,362.3 423.6,365.1 422.0,365.9 419.7,365.1 416.6,364.3 413.4,362.7 410.3,361.2 408.0,359.2 405.6,356.9 403.3,354.9 400.2,353.4 398.6,351.8 399.0,349.5 401.7,347.5 403.7,345.5 402.1,344.8" fill="none" stroke="#000" />
<polygon points="362.5,347.8 366.3,346.0 368.2,344.0 373.8,340.3 376.6,342.2 379.4,345.0 380.4,347.8 377.6,349.7 373.8,350.6 372.9,354.4 370.0,353.5 366.3,351.6 363.5,349.7" fill="none" stroke="#000" />
<polygon points="335.6,363.1 337.0,360.3 338.4,359.4 340.3,358.4 342.2,358.9 344.0,358.4 345.0,360.8 346.9,362.2 348.3,364.0 345.9,365.0 343.1,365.5 341.2,366.9 339.4,366.9 337.5,365.9 335.6,365.0" fill="none" stroke="#000" />
<polygon points="305.3,409.0 306.2,403.2 308.0,402.2 318.4,400.3 321.2,397.5 320.3,394.7 314.7,391.9 309.0,391.0 304.4,391.0 301.6,388.2 297.8,385.3 292.2,383.4 291.2,381.6 296.9,380.6 300.6,379.7 301.6,376.0 298.8,375.0 295.0,374.0 294.0,372.2 296.9,370.3 304.4,369.4 314.7,368.5 320.3,367.5 326.9,368.5 336.3,370.3 343.8,372.2 350.3,375.0 353.2,375.0 352.2,377.8 350.3,379.7 354.1,382.5 357.0,384.4 352.2,384.4 347.5,383.4 343.8,380.6 342.0,382.5 339.0,384.4 338.2,386.3 342.9,387.2 346.6,390.0 351.3,390.0 355.0,391.0 354.1,392.8 356.0,394.7 357.0,397.5 356.0,400.3 357.0,402.2 355.0,405.0 354.0,409.0" fill="none" stroke="#000" />
<polygon points="362.5,373.2 368.2,373.2 376.6,375.0 377.6,377.0 372.9,378.8 370.0,380.6 365.4,381.6 362.5,380.6 362.5,377.0" fill="none" stroke="#000" />
<polygon points="354.8,274.4 359.5,275.6 363.5,276.9 366.5,278.2 365.5,279.4 362.0,278.4 358.5,277.3 355.0,276.0" fill="none" stroke="#000" />
<polygon points="490.6,298.6 494.0,300.2 491.2,303.0" fill="none" stroke="#000" />
<polygon points="313.0,251.2 320.0,253.0 326.0,256.0 332.0,259.0 338.0,262.2 337.2,263.2 331.0,260.4 325.0,257.6 319.0,254.8 313.0,252.6" fill="none" stroke="#000" />
<polyline points="296.5,247.2 302.0,248.5 307.5,249.8 313.0,251.5" fill="none" stroke="#000"/>
<polyline points="245.6,221.0 251.9,222.5 257.3,223.3 258.1,227.2 257.3,231.9 258.1,238.9 256.6,239.7 253.4,233.4 250.3,228.8 247.2,224.0 245.6,221.0" fill="none" stroke="#000"/>
<polyline points="275.6,240.0 280.0,240.2 279.5,242.5 277.5,243.6 276.2,241.5 275.6,240.0" fill="none" stroke="#000"/>
<polyline points="250.0,277.5 254.0,277.0 258.5,279.5 255.0,281.0 251.0,279.5 250.0,277.5" fill="none" stroke="#000"/>
<polyline points="510.0,291.9 513.8,296.2 509.4,300.6 505.6,296.2 510.0,291.9" fill="none" stroke="#000"/>
<polyline points="386.4,221.4 390.4,219.5 393.0,222.7 390.1,225.5 386.4,221.4" fill="none" stroke="#000"/>
<polyline points="376.5,274.8 378.6,276.6 380.3,278.6" fill="none" stroke="#000"/>
<polyline points="362.2,279.2 363.8,280.8" fill="none" stroke="#000"/>
<polyline points="299.8,201.7 302.5,198.2 305.0,201.7" fill="none" stroke="#000"/>
<polyline points="228.5,231.6 231.8,233.4" fill="none" stroke="#000"/>
<polyline points="280.5,225.2 283.0,226.2 286.0,228.4" fill="none" stroke="#000"/>
<polyline points="187.2,328.4 190.0,329.6 194.0,331.0 197.3,332.3" fill="none" stroke="#000"/>
<polyline points="333.5,307.0 335.2,304.5 337.0,307.0 333.5,307.0" fill="none" stroke="#000"/>
<rect x="0" y="0" width="640" height="135" fill="#fff"/>
<rect x="0" y="408" width="640" height="72" fill="#fff"/>
<rect x="603" y="0" width="37" height="480" fill="#fff"/>
<rect x="0" y="0" width="40" height="480" fill="#fff"/>
</g>
<text class="t" x="99.00" y="128.0" font-size="16.8" textLength="150.40" lengthAdjust="spacingAndGlyphs" fill="#000">VictoriaWeather.ca</text>
<text class="t" x="259.00" y="126.8" font-size="16.8" textLength="25.50" lengthAdjust="spacingAndGlyphs" fill="#000">--</text>
<text class="t" x="294.00" y="128.0" font-size="16.8" textLength="69.50" lengthAdjust="spacingAndGlyphs" fill="#000">Summer</text>
<text class="t" x="370.25" y="128.0" font-size="16.8" textLength="39.50" lengthAdjust="spacingAndGlyphs" fill="#000">Total</text>
<text class="t" x="417.75" y="128.0" font-size="16.8" textLength="38.25" lengthAdjust="spacingAndGlyphs" fill="#000">Daily</text>
<text class="t" x="464.30" y="128.0" font-size="16.8" textLength="34.70" lengthAdjust="spacingAndGlyphs" fill="#000">Rain</text>
<text class="t" x="508.40" y="128.0" font-size="16.8" textLength="31.50" lengthAdjust="spacingAndGlyphs" fill="#000">PDF</text>
<g shape-rendering="crispEdges">
<rect x="68" y="430" width="513" height="20" fill="#dcdcdc"/>
<rect x="64" y="426" width="51" height="20" fill="#12007a"/>
<rect x="115" y="426" width="51" height="20" fill="#0000f5"/>
<rect x="166" y="426" width="52" height="20" fill="#0055ff"/>
<rect x="218" y="426" width="51" height="20" fill="#0098c8"/>
<rect x="269" y="426" width="51" height="20" fill="#00be32"/>
<rect x="320" y="426" width="51" height="20" fill="#1eff00"/>
<rect x="371" y="426" width="51" height="20" fill="#e6ff00"/>
<rect x="422" y="426" width="52" height="20" fill="#ffa500"/>
<rect x="474" y="426" width="51" height="20" fill="#ff5a00"/>
<rect x="525" y="426" width="51" height="20" fill="#ff0000"/>
<rect x="64.5" y="426.5" width="512" height="19" fill="none" stroke="#000"/>
<line x1="64.5" y1="426" x2="64.5" y2="450" stroke="#000"/>
<line x1="115.5" y1="426" x2="115.5" y2="450" stroke="#000"/>
<line x1="166.5" y1="426" x2="166.5" y2="450" stroke="#000"/>
<line x1="218.5" y1="426" x2="218.5" y2="450" stroke="#000"/>
<line x1="269.5" y1="426" x2="269.5" y2="450" stroke="#000"/>
<line x1="320.5" y1="426" x2="320.5" y2="450" stroke="#000"/>
<line x1="371.5" y1="426" x2="371.5" y2="450" stroke="#000"/>
<line x1="422.5" y1="426" x2="422.5" y2="450" stroke="#000"/>
<line x1="474.5" y1="426" x2="474.5" y2="450" stroke="#000"/>
<line x1="525.5" y1="426" x2="525.5" y2="450" stroke="#000"/>
<line x1="576.5" y1="426" x2="576.5" y2="450" stroke="#000"/>
</g>
<text class="l" x="61.6" y="459" font-size="10.5" textLength="5.8" lengthAdjust="spacingAndGlyphs" fill="#000">9</text>
<text class="l" x="109.4" y="459" font-size="10.5" textLength="12.2" lengthAdjust="spacingAndGlyphs" fill="#000">10</text>
<text class="l" x="160.4" y="459" font-size="10.5" textLength="12.2" lengthAdjust="spacingAndGlyphs" fill="#000">11</text>
<text class="l" x="212.4" y="459" font-size="10.5" textLength="12.2" lengthAdjust="spacingAndGlyphs" fill="#000">12</text>
<text class="l" x="263.4" y="459" font-size="10.5" textLength="12.2" lengthAdjust="spacingAndGlyphs" fill="#000">13</text>
<text class="l" x="314.4" y="459" font-size="10.5" textLength="12.2" lengthAdjust="spacingAndGlyphs" fill="#000">14</text>
<text class="l" x="365.4" y="459" font-size="10.5" textLength="12.2" lengthAdjust="spacingAndGlyphs" fill="#000">15</text>
<text class="l" x="416.4" y="459" font-size="10.5" textLength="12.2" lengthAdjust="spacingAndGlyphs" fill="#000">16</text>
<text class="l" x="468.4" y="459" font-size="10.5" textLength="12.2" lengthAdjust="spacingAndGlyphs" fill="#000">17</text>
<text class="l" x="519.4" y="459" font-size="10.5" textLength="12.2" lengthAdjust="spacingAndGlyphs" fill="#000">18</text>
<text class="l" x="570.4" y="459" font-size="10.5" textLength="12.2" lengthAdjust="spacingAndGlyphs" fill="#000">19</text>
<text class="l" x="167.5" y="470" font-size="10.5" fill="#000" textLength="304" lengthAdjust="spacingAndGlyphs">95<tspan font-size="6.5" font-weight="bold" dx="-0.5" dy="-5">th</tspan><tspan dy="5"> percentile of daily rain (mm/day) on 2026-Apr-20</tspan></text>
</svg></body></html>
